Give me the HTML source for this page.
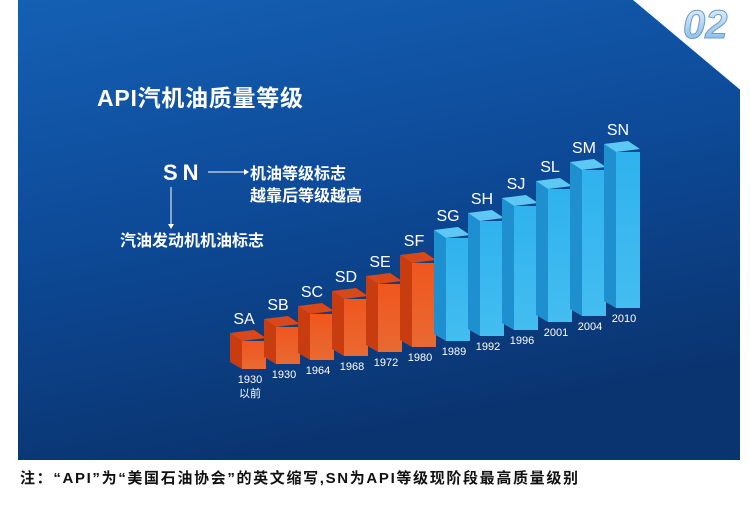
<!DOCTYPE html>
<html><head><meta charset="utf-8"><style>
body{margin:0;width:750px;height:512px;background:#fff;overflow:hidden;font-family:"Liberation Sans","Noto Sans CJK SC",sans-serif}
</style></head><body>
<svg width="750" height="512" xmlns="http://www.w3.org/2000/svg">
<defs>
<linearGradient id="bg" x1="0" y1="0" x2="0.3" y2="1">
<stop offset="0" stop-color="#1560b4"/><stop offset="0.5" stop-color="#0d4a98"/><stop offset="1" stop-color="#0a3470"/></linearGradient>
<linearGradient id="og" x1="0" y1="0" x2="0" y2="1"><stop offset="0" stop-color="#f0561e"/><stop offset="1" stop-color="#e86a32"/></linearGradient>
<linearGradient id="bl" x1="0" y1="0" x2="0" y2="1"><stop offset="0" stop-color="#2fb2ee"/><stop offset="1" stop-color="#44bdf0"/></linearGradient>
<linearGradient id="num" x1="0" y1="0" x2="0" y2="1"><stop offset="0" stop-color="#e8f4ff"/><stop offset="1" stop-color="#7fb4e4"/></linearGradient>
</defs>
<rect x="18" y="0" width="722" height="460" fill="url(#bg)"/>
<polygon points="633,0 750,0 750,98" fill="#fff"/>
<text x="683" y="38" font-size="40" font-weight="bold" font-style="italic" fill="url(#num)" stroke="#6a9ccc" stroke-width="1">02</text>
<text x="97" y="106" font-size="23" font-weight="bold" fill="#fff" textLength="206">API汽机油质量等级</text>
<text x="163" y="180" font-size="22" font-weight="bold" fill="#fff" letter-spacing="5">SN</text>
<line x1="208" y1="172" x2="244" y2="172" stroke="#fff" stroke-width="1"/>
<polygon points="244,169 249,172 244,175" fill="#fff"/>
<text x="250" y="179" font-size="16" font-weight="bold" fill="#fff">机油等级标志</text>
<text x="250" y="201" font-size="16" font-weight="bold" fill="#fff">越靠后等级越高</text>
<line x1="171" y1="187" x2="171" y2="224" stroke="#fff" stroke-width="1"/>
<polygon points="168,224 171,229 174,224" fill="#fff"/>
<text x="120" y="246" font-size="16" font-weight="bold" fill="#fff">汽油发动机机油标志</text>
<g id="bars"></g>
<text x="20" y="483" font-size="15" font-weight="bold" fill="#111" textLength="558">注：“API”为“美国石油协会”的英文缩写,SN为API等级现阶段最高质量级别</text>
</svg>
<script>
var d=[["SA",242,341,369,"1930",1],["SB",276,327,364,"1930",1],["SC",310,314,360,"1964",1],["SD",344,299,356,"1968",1],["SE",378,284,352,"1972",1],["SF",412,263,347,"1980",1],
["SG",446,238,341,"1989",0],["SH",480,221,336,"1992",0],["SJ",514,206,330,"1996",0],["SL",548,189,322,"2001",0],["SM",582,170,316,"2004",0],["SN",616,152,308,"2010",0]];
var s="";
d.forEach(function(b){var x=b[1],t=b[2],bt=b[3],w=24,o=b[5];
var side=o?"#c83c10":"#1e90d0",top=o?"#d84818":"#5cc8f4",fr=o?"url(#og)":"url(#bl)";
s+='<polygon points="'+(x-12)+','+(t-8)+' '+x+','+t+' '+x+','+bt+' '+(x-12)+','+(bt-7)+'" fill="'+side+'"/>';
s+='<polygon points="'+(x-12)+','+(t-8)+' '+(x+12)+','+(t-11)+' '+(x+w)+','+(t-3)+' '+x+','+t+'" fill="'+top+'"/>';
s+='<rect x="'+x+'" y="'+t+'" width="'+w+'" height="'+(bt-t)+'" fill="'+fr+'"/>';
s+='<text x="'+(x+2)+'" y="'+(t-17)+'" font-size="16" fill="#fff" text-anchor="middle">'+b[0]+'</text>';
s+='<text x="'+(x+8)+'" y="'+(bt+14)+'" font-size="11" fill="#fff" text-anchor="middle">'+b[4]+'</text>';
});
s+='<text x="250" y="397" font-size="11" fill="#fff" text-anchor="middle">以前</text>';
document.getElementById("bars").innerHTML=s;
</script>
</body></html>
